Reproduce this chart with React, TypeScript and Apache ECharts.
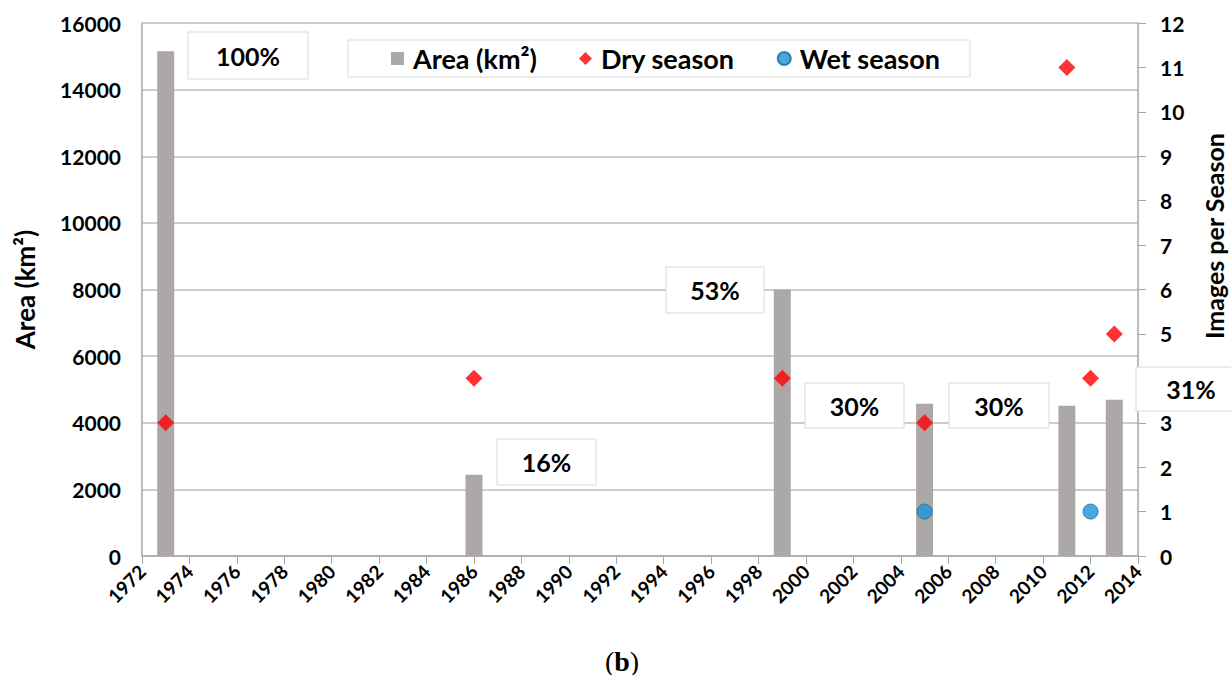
import React, { useEffect, useRef } from "react";
import * as echarts from "echarts";

// ---- data ----
const areaYears = [1973, 1986, 1999, 2005, 2011, 2013];
const areaKm2 = [15150, 2440, 8000, 4570, 4510, 4690];
const dryYears = [1973, 1986, 1999, 2005, 2011, 2012, 2013];
const dryImages = [3, 4, 4, 3, 11, 4, 5];
const wetYears = [2005, 2012];
const wetImages = [1, 1];
const pctLabels = ["100%", "16%", "53%", "30%", "30%", "31%"];
const seriesNames = ["Area (km²)", "Dry season", "Wet season"];
const leftAxisName = "Area (km²)";
const rightAxisName = "Images per Season";
const captionLetter = "b";
// right-axis tick hidden behind the "31%" box in the reference
const hiddenRightTicks = [4];

// ---- layout (pixels) ----
const pctBoxes = [
  [188, 32, 120, 47],
  [497, 439, 99, 46],
  [666, 267, 98, 46],
  [805, 383, 99, 45],
  [949, 383, 100, 45],
  [1136, 367, 110, 44],
];

const FONT = 'Lato, "Open Sans", sans-serif';

export default function App() {
  const ref = useRef<HTMLDivElement>(null);
  useEffect(() => {
    if (!ref.current) return;
    const chart = echarts.init(ref.current, null, { renderer: "svg" });
    const graphics: any[] = [];
    pctBoxes.forEach((b, i) => {
      graphics.push({
        type: "rect",
        z: 100,
        shape: { x: b[0], y: b[1], width: b[2], height: b[3] },
        style: { fill: "#ffffff", stroke: "#d9d9d9", lineWidth: 1 },
      });
      graphics.push({
        type: "text",
        z: 101,
        x: b[0] + b[2] / 2,
        y: b[1] + b[3] / 2,
        style: {
          text: pctLabels[i],
          fill: "#000",
          font: `bold 25px ${FONT}`,
          align: "center",
          verticalAlign: "middle",
        },
      });
    });
    graphics.push({
      type: "text",
      z: 101,
      x: 1214,
      y: 236,
      rotation: Math.PI / 2,
      style: {
        text: rightAxisName,
        fill: "#000",
        font: `bold 25px ${FONT}`,
        align: "center",
        verticalAlign: "middle",
      },
    });
    graphics.push({
      type: "text",
      z: 101,
      x: 622,
      y: 661,
      style: {
        text: `{p|(}{b|${captionLetter}}{p|)}`,
        align: "center",
        verticalAlign: "middle",
        fill: "#000",
        rich: {
          p: { font: '28px "Liberation Serif", serif', fill: "#000" },
          b: { font: 'bold 28px "Liberation Serif", serif', fill: "#000" },
        },
      },
    });

    chart.setOption({
      animation: false,
      backgroundColor: "#ffffff",
      textStyle: { fontFamily: FONT },
      grid: { left: 142, right: 93, top: 23, bottom: 119, containLabel: false },
      legend: {
        left: 348,
        top: 40,
        orient: "horizontal",
        backgroundColor: "#ffffff",
        borderColor: "#d9d9d9",
        borderWidth: 1,
        padding: [5, 30, 5, 43],
        itemGap: 42,
        itemWidth: 13,
        itemHeight: 13,
        textStyle: {
          fontSize: 27,
          fontWeight: "bold",
          color: "#000",
          fontFamily: FONT,
          padding: [0, 0, 0, 4],
        },
        data: [
          { name: seriesNames[0], icon: "rect" },
          { name: seriesNames[1], icon: "diamond" },
          { name: seriesNames[2], icon: "circle" },
        ],
      },
      xAxis: {
        type: "value",
        min: 1972,
        max: 2014,
        interval: 2,
        axisLine: { show: true, lineStyle: { color: "#a6a6a6", width: 1.5 } },
        axisTick: { show: true, length: 8, lineStyle: { color: "#a6a6a6" } },
        splitLine: { show: false },
        axisLabel: {
          rotate: 45,
          formatter: (v: number) => String(v),
          fontSize: 19,
          fontWeight: "bold",
          color: "#000",
          fontFamily: FONT,
          margin: 12,
        },
      },
      yAxis: [
        {
          type: "value",
          position: "left",
          min: 0,
          max: 16000,
          interval: 2000,
          axisLine: { show: true, lineStyle: { color: "#a6a6a6", width: 1.5 } },
          axisTick: { show: false },
          splitLine: { show: true, lineStyle: { color: "#bdbdbd", width: 1.5 } },
          axisLabel: {
            formatter: (v: number) => String(v),
            fontSize: 21,
            fontWeight: "bold",
            color: "#000",
            fontFamily: FONT,
            margin: 21,
          },
          name: leftAxisName,
          nameLocation: "middle",
          nameRotate: 90,
          nameGap: 104,
          nameTextStyle: {
            fontSize: 26,
            fontWeight: "bold",
            color: "#000",
            fontFamily: FONT,
          },
        },
        {
          type: "value",
          position: "right",
          min: 0,
          max: 12,
          interval: 1,
          axisLine: { show: true, lineStyle: { color: "#a6a6a6", width: 1.5 } },
          axisTick: { show: true, length: 8, lineStyle: { color: "#a6a6a6" } },
          splitLine: { show: false },
          axisLabel: {
            formatter: (v: number) =>
              hiddenRightTicks.indexOf(v) >= 0 ? "" : String(v),
            fontSize: 21,
            fontWeight: "bold",
            color: "#000",
            fontFamily: FONT,
            margin: 22,
          },
        },
      ],
      series: [
        {
          type: "bar",
          name: seriesNames[0],
          data: areaYears.map((y, i) => [y, areaKm2[i]]),
          barWidth: 17,
          itemStyle: { color: "#aca8a8" },
          z: 2,
        },
        {
          type: "scatter",
          name: seriesNames[1],
          yAxisIndex: 1,
          symbol: "diamond",
          symbolSize: 17,
          itemStyle: { color: "#ff0000" },
          data: dryYears.map((y, i) => [y, dryImages[i]]),
          z: 3,
        },
        {
          type: "scatter",
          name: seriesNames[2],
          yAxisIndex: 1,
          symbol: "circle",
          symbolSize: 15,
          itemStyle: { color: "#1b92d6", borderColor: "#176fa6", borderWidth: 1 },
          data: wetYears.map((y, i) => [y, wetImages[i]]),
          z: 3,
        },
      ],
      graphic: graphics,
    });
    return () => chart.dispose();
  }, []);
  return (
    <div
      ref={ref}
      style={{ position: "fixed", left: 0, top: 0, width: 1231, height: 675 }}
    />
  );
}
